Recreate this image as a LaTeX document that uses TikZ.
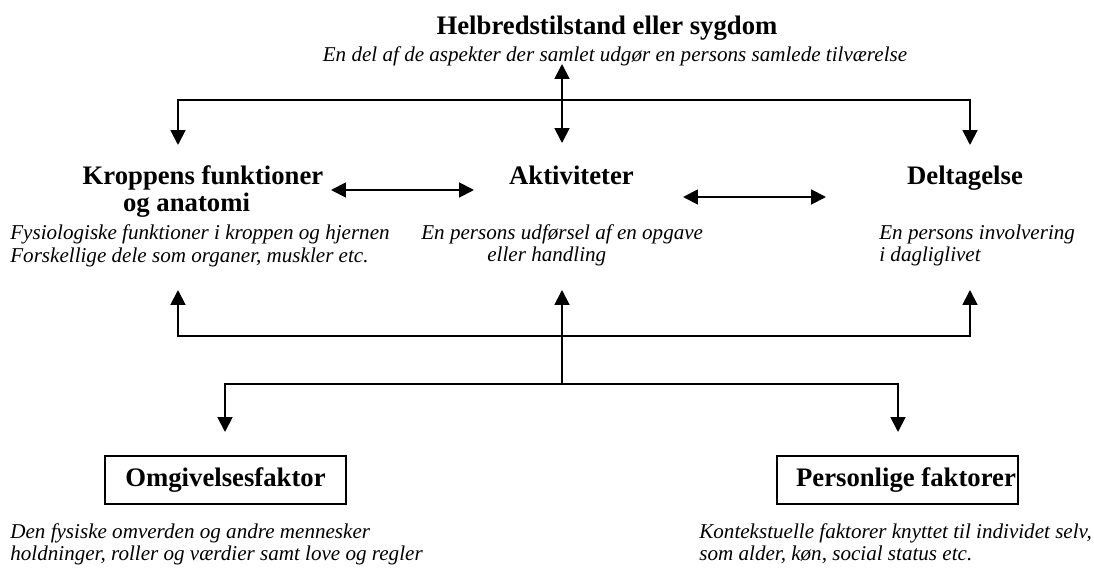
\documentclass[tikz,border=0pt]{standalone}
\usepackage{fontspec}
\setmainfont{Liberation Serif}
\usetikzlibrary{arrows.meta}
\tikzset{
  head/.style={font=\fontsize{15.2}{18}\selectfont\bfseries},
  desc/.style={font=\fontsize{12}{14}\selectfont\itshape},
  link/.style={line width=1.1pt},
  pil/.style={link,-{Triangle[length=8.5pt,width=8.5pt]}},
  dpil/.style={link,{Triangle[length=8.5pt,width=8.5pt]}-{Triangle[length=8.5pt,width=8.5pt]}},
  faktor/.style={head,draw,line width=0.8pt,minimum width=4.82cm,minimum height=0.96cm,inner xsep=0pt},
}
\begin{document}
\begin{tikzpicture}[inner sep=0pt]
\useasboundingbox (0,0) rectangle (21.88,11.34);
% overskrift
\node[head,anchor=base] (helbred) at (12.14,10.64) {Helbredstilstand eller sygdom};
\node[desc,anchor=base] (helbredtxt) at (12.30,10.10) {En del af de aspekter der samlet udgør en persons samlede tilværelse};
% midterste niveau
\node[head,anchor=base] (krop) at (4.06,7.64) {Kroppens funktioner};
\node[head,anchor=base] (krop2) at (3.73,7.10) {og anatomi};
\node[head,anchor=base] (akt) at (11.43,7.64) {Aktiviteter};
\node[head,anchor=base] (delt) at (19.30,7.64) {Deltagelse};
\node[desc,anchor=base west] (kroptxt) at (0.20,6.54) {Fysiologiske funktioner i kroppen og hjernen};
\node[desc,anchor=base west] (kroptxt2) at (0.20,6.08) {Forskellige dele som organer, muskler etc.};
\node[desc,anchor=base west] (akttxt) at (8.42,6.54) {En persons udførsel af en opgave};
\node[desc,anchor=base west] (akttxt2) at (9.74,6.10) {eller handling};
\node[desc,anchor=base west] (delttxt) at (17.58,6.54) {En persons involvering};
\node[desc,anchor=base west] (delttxt2) at (17.58,6.10) {i dagliglivet};
% faktorer
\node[faktor] (omg) at (4.51,1.74) {Omgivelsesfaktor};
\node[faktor] (pers) at (17.95,1.74) {\hspace*{0.34cm}Personlige faktorer};
\node[desc,anchor=base west] (omgtxt) at (0.20,0.58) {Den fysiske omverden og andre mennesker};
\node[desc,anchor=base west] (omgtxt2) at (0.20,0.14) {holdninger, roller og værdier samt love og regler};
\node[desc,anchor=base west] (perstxt) at (13.98,0.58) {Kontekstuelle faktorer knyttet til individet selv,};
\node[desc,anchor=base west] (perstxt2) at (13.98,0.14) {som alder, køn, social status etc.};
% forbindelser
\coordinate (top) at (11.24,10.06);
\coordinate (topbar) at (11.24,9.34);
\coordinate (topm) at (11.24,8.48);
\coordinate (kin) at (3.56,8.44);
\coordinate (din) at (19.40,8.44);
\draw[dpil] (top) -- (topm);
\draw[pil] (topbar) -| (kin);
\draw[pil] (topbar) -| (din);
\coordinate (ka1) at (6.62,7.54);
\coordinate (ka2) at (9.48,7.54);
\coordinate (ad1) at (13.66,7.40);
\coordinate (ad2) at (16.52,7.40);
\draw[dpil] (ka1) -- (ka2);
\draw[dpil] (ad1) -- (ad2);
\coordinate (botbar) at (11.24,4.62);
\coordinate (split) at (11.24,3.66);
\coordinate (kout) at (3.56,5.54);
\coordinate (aout) at (11.24,5.54);
\coordinate (dout) at (19.40,5.54);
\draw[pil] (botbar) -| (kout);
\draw[pil] (botbar) -| (dout);
\draw[pil] (split) -- (aout);
\coordinate (omgin) at (4.50,2.70);
\coordinate (persin) at (17.96,2.70);
\draw[pil] (split) -| (omgin);
\draw[pil] (split) -| (persin);
\end{tikzpicture}
\end{document}
